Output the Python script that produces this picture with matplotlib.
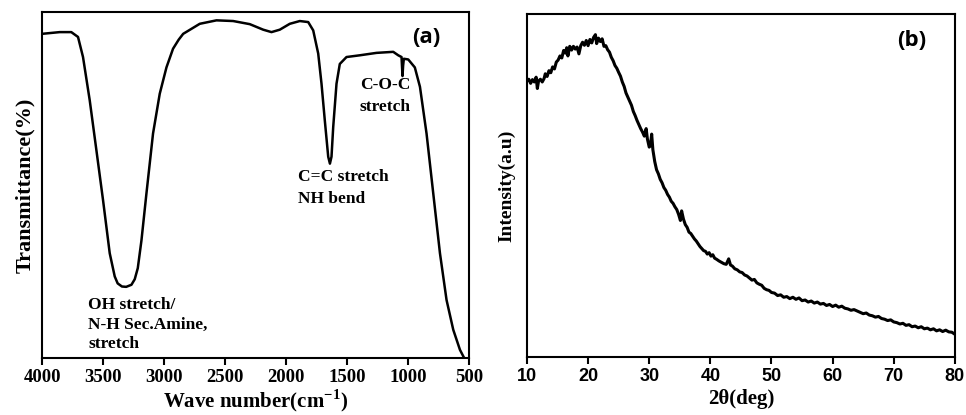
import matplotlib
matplotlib.use("Agg")
import matplotlib.pyplot as plt

plt.rcParams["mathtext.fontset"] = "custom"
plt.rcParams["mathtext.rm"] = "Liberation Serif:bold"
plt.rcParams["mathtext.bf"] = "Liberation Serif:bold"

# FTIR spectrum
wavenumber = [4000, 3855, 3760, 3705, 3664, 3609, 3554, 3500, 3445, 3404, 3380, 3345,
              3310, 3267, 3240, 3215, 3185, 3144, 3090, 3035, 2980, 2926, 2880, 2843,
              2707, 2570, 2433, 2297, 2187, 2119, 2051, 1969, 1887, 1818, 1777, 1736,
              1709, 1682, 1654, 1640, 1627, 1613, 1586, 1559, 1504, 1395, 1258, 1121,
              1080, 1053, 1045, 1040, 1034, 998, 944, 902, 848, 793, 738, 684, 629,
              574, 539]
transmittance = [93.7, 94.2, 94.2, 92.8, 87.0, 74.5, 60.0, 45.7, 30.3, 23.6, 21.6, 20.7,
                 20.6, 21.2, 22.8, 26.0, 34.0, 47.6, 64.9, 76.4, 84.0, 89.4, 92.0, 93.7,
                 96.6, 97.6, 97.4, 96.5, 94.9, 94.2, 94.9, 96.6, 97.4, 97.1, 94.7, 88.0,
                 79.3, 68.7, 58.2, 56.2, 58.2, 66.8, 79.3, 85.0, 87.0, 87.5, 88.2, 88.5,
                 87.5, 87.0, 81.5, 84.5, 86.5, 86.3, 84.0, 78.4, 64.9, 47.6, 30.3, 16.8,
                 8.2, 2.4, 0.0]

# XRD pattern
two_theta = [10.0, 10.3, 10.6, 10.9, 11.2, 11.5, 11.7, 11.9, 12.2, 12.5, 12.8, 13.0,
             13.3, 13.6, 13.9, 14.2, 14.5, 14.8, 15.1, 15.4, 15.7, 16.0, 16.3, 16.5,
             16.7, 17.0, 17.3, 17.6, 17.9, 18.2, 18.5, 18.8, 19.1, 19.4, 19.7, 20.0,
             20.3, 20.6, 20.9, 21.2, 21.4, 21.7, 22.0, 22.3, 22.6, 22.9, 23.2, 23.5,
             23.8, 24.1, 24.4, 24.7, 25.0, 25.3, 25.6, 25.9, 26.2, 26.5, 26.8, 27.1,
             27.4, 27.7, 28.0, 28.3, 28.6, 28.9, 29.2, 29.5, 29.7, 30.0, 30.2, 30.4,
             30.6, 30.9, 31.2, 31.5, 31.8, 32.1, 32.4, 32.7, 33.0, 33.3, 33.6, 33.9,
             34.2, 34.5, 34.8, 35.1, 35.3, 35.6, 35.9, 36.2, 36.5, 36.8, 37.1, 37.4,
             37.7, 38.0, 38.3, 38.6, 38.9, 39.2, 39.5, 39.8, 40.1, 40.4, 40.7, 41.0,
             41.4, 41.8, 42.2, 42.6, 43.0, 43.3, 43.6, 44.0, 44.4, 44.8, 45.2, 45.6,
             46.0, 46.4, 46.8, 47.2, 47.6, 48.0, 48.4, 48.8, 49.2, 49.6, 50.0, 50.5,
             51.0, 51.5, 52.0, 52.5, 53.0, 53.5, 54.0, 54.5, 55.0, 55.5, 56.0, 56.5,
             57.0, 57.5, 58.0, 58.5, 59.0, 59.5, 60.0, 60.5, 61.0, 61.5, 62.0, 62.5,
             63.0, 63.5, 64.0, 64.5, 65.0, 65.5, 66.0, 66.5, 67.0, 67.5, 68.0, 68.5,
             69.0, 69.5, 70.0, 70.5, 71.0, 71.5, 72.0, 72.5, 73.0, 73.5, 74.0, 74.5,
             75.0, 75.5, 76.0, 76.5, 77.0, 77.5, 78.0, 78.5, 79.0, 79.5, 80.0]
intensity = [80.5, 81.0, 79.8, 80.9, 80.2, 81.6, 78.3, 80.5, 81.0, 80.2, 81.2, 82.6,
             81.8, 83.5, 82.9, 84.6, 84.0, 86.0, 86.6, 87.8, 87.2, 89.4, 88.6, 90.2,
             87.8, 90.6, 89.5, 90.6, 89.8, 90.4, 88.4, 90.8, 91.8, 90.9, 92.3, 90.8,
             92.6, 91.6, 93.2, 94.0, 91.4, 93.0, 92.0, 92.8, 90.6, 90.8, 89.6, 88.9,
             87.4, 86.4, 85.0, 84.2, 83.0, 81.9, 80.2, 78.9, 77.0, 75.8, 74.6, 73.4,
             71.6, 70.4, 69.0, 67.8, 66.6, 65.6, 64.4, 66.6, 63.6, 61.2, 61.6, 65.0,
             60.4, 57.0, 54.6, 53.4, 51.8, 50.8, 49.4, 48.6, 47.4, 46.6, 45.4, 44.8,
             43.8, 43.0, 41.6, 39.8, 42.6, 40.2, 38.6, 37.8, 36.4, 36.0, 35.2, 34.4,
             33.8, 33.0, 32.2, 31.6, 31.0, 30.8, 30.0, 30.4, 29.4, 29.8, 28.8, 28.5,
             28.0, 27.6, 27.2, 27.0, 28.6, 26.8, 26.5, 25.7, 25.4, 24.8, 24.6, 23.9,
             23.6, 23.0, 22.4, 22.6, 21.6, 21.2, 20.9, 20.0, 19.6, 19.4, 18.8, 18.6,
             17.9, 18.1, 17.4, 17.6, 17.0, 17.4, 16.8, 17.2, 16.4, 16.6, 16.0, 16.3,
             15.7, 16.0, 15.4, 15.6, 15.0, 15.3, 14.7, 15.1, 14.5, 14.8, 14.2, 14.0,
             13.6, 13.8, 13.4, 13.0, 12.6, 12.8, 12.2, 12.0, 11.6, 11.8, 11.2, 11.0,
             10.6, 10.8, 10.2, 10.0, 9.6, 9.8, 9.2, 9.4, 8.8, 9.0, 8.5, 8.8,
             8.2, 8.4, 7.9, 8.2, 7.6, 7.9, 7.4, 7.8, 7.3, 7.2, 6.6]

ftir_ticks = [4000, 3500, 3000, 2500, 2000, 1500, 1000, 500]
xrd_ticks = [10, 20, 30, 40, 50, 60, 70, 80]

serif = "Liberation Serif"
sans = "Liberation Sans"

fig = plt.figure(figsize=(9.66, 4.15), dpi=100)
ax1 = fig.add_axes([0.0435, 0.137, 0.442, 0.834])
ax2 = fig.add_axes([0.5455, 0.140, 0.443, 0.826])

for ax in (ax1, ax2):
    for sp in ax.spines.values():
        sp.set_linewidth(1.5)
    ax.set_yticks([])
    ax.tick_params(axis="x", direction="out", length=5, width=1.5, pad=3)

# panel (a)
ax1.plot(wavenumber, transmittance, color="black", lw=1.8)
ax1.set_xlim(4000, 500)
ax1.set_ylim(0, 100)
ax1.set_xticks(ftir_ticks)
ax1.set_xticklabels([str(t) for t in ftir_ticks], fontfamily=serif,
                    fontweight="bold", fontsize=13.5)
ax1.set_xlabel("Wave number(cm$^{-1}$)", fontfamily=serif,
               fontweight="bold", fontsize=15, labelpad=1)
ax1.set_ylabel("Transmittance(%)", fontfamily=serif, fontweight="bold",
               fontsize=16, labelpad=5)

ann = dict(fontfamily=serif, fontweight="bold", fontsize=12.5, va="center")
ax1.text(1902, 52.3, "C=C stretch", ha="left", **ann)
ax1.text(1902, 46.0, "NH bend", ha="left", **ann)
ax1.text(1188, 78.9, "C-O-C", ha="center", **ann)
ax1.text(1188, 72.5, "stretch", ha="center", **ann)
ax1.text(3623, 15.3, "OH stretch/", ha="left", **ann)
ax1.text(3623, 9.5, "N-H Sec.Amine,", ha="left", **ann)
ax1.text(3623, 4.0, "stretch", ha="left", **ann)
ax1.text(0.90, 0.925, "(a)", transform=ax1.transAxes, ha="center", va="center",
         fontfamily="Open Sans", fontweight="bold", fontsize=16)

# panel (b)
ax2.plot(two_theta, intensity, color="black", lw=2.2)
ax2.set_xlim(10, 80)
ax2.set_ylim(0, 100)
ax2.set_xticks(xrd_ticks)
ax2.set_xticklabels([str(t) for t in xrd_ticks], fontfamily=sans,
                    fontweight="bold", fontsize=13)
ax2.set_xlabel("2\u03b8(deg)", fontfamily=serif, fontweight="bold",
               fontsize=15, labelpad=3)
ax2.set_ylabel("Intensity(a.u)", fontfamily=serif, fontweight="bold",
               fontsize=14, labelpad=8)
ax2.text(0.90, 0.924, "(b)", transform=ax2.transAxes, ha="center", va="center",
         fontfamily="Open Sans", fontweight="bold", fontsize=16)

fig.savefig("out.png", dpi=100)
